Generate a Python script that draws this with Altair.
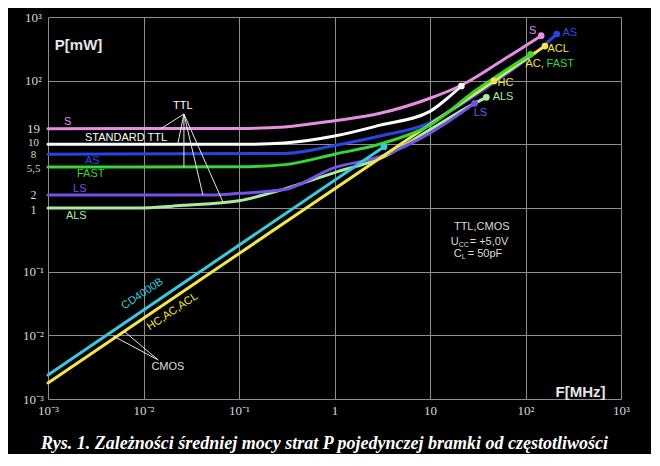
import json
import altair as alt
import pandas as pd

# ---------------- data (F in MHz, P in mW) ----------------
S_f = [0.001, 0.1, 0.3, 1, 3, 10, 21.6, 58, 146]
S_p = [17.6, 17.8, 18.8, 23.5, 30.7, 52.9, 85.5, 211, 509]
STD_f = [0.001, 0.1, 0.3, 1, 3, 10, 15, 21.3]
STD_p = [10, 10, 10.5, 13.5, 20, 33, 52, 82.5]
AS_f = [0.001, 0.3, 1, 3, 10, 20, 60, 158, 213]
AS_p = [7.0, 7.2, 9.6, 13.5, 22, 40, 120, 363, 541]
FAST_f = [0.001, 0.1, 0.3, 1, 3, 10, 30, 113]
FAST_p = [4.4, 4.45, 4.8, 7.0, 10.1, 20, 70, 259]
LS_f = [0.001, 0.05, 0.1, 0.3, 1, 3, 10, 29.3]
LS_p = [1.6, 1.6, 1.7, 1.95, 4.3, 6.4, 15, 44]
ALS_f = [0.001, 0.008, 0.026, 0.1, 0.3, 1, 3, 10, 26, 38.9]
ALS_p = [1.0, 1.0, 1.1, 1.3, 2.0, 3.6, 6.0, 17, 40, 54.8]
CD_f = [0.001, 3.3]
CD_p = [0.00238, 9.2]
HC_f = [0.001, 46.8, 160]
HC_p = [0.00179, 99, 350]

series_names = ["ALS", "LS", "AS", "CD4000B", "HC", "FAST", "STANDARD TTL", "S"]
series_f = [ALS_f, LS_f, AS_f, CD_f, HC_f, FAST_f, STD_f, S_f]
series_p = [ALS_p, LS_p, AS_p, CD_p, HC_p, FAST_p, STD_p, S_p]
series_colors = ["#a8eaa2", "#7452e6", "#2a44e0", "#3cc8dc", "#f2e64a", "#36d636", "#ffffff", "#e48ee4"]

# extra marker on the yellow line (HC)
extra_dot_f = [46.8]
extra_dot_p = [99]
extra_dot_c = ["#f2e64a"]

# axis ticks
x_tick_values = [0.001, 0.01, 0.1, 1, 10, 100, 1000]
x_tick_labels = ["10⁻³", "10⁻²", "10⁻¹", "1", "10", "10²", "10³"]
y_tick_values = [0.001, 0.01, 0.1, 1, 1.6, 4.4, 7.0, 10, 17.6, 100, 1000]
y_tick_labels = ["10⁻³", "10⁻²", "10⁻¹", "1", "2", "5,5", "8", "10", "19", "10²", "10³"]

# text annotations (text, F, P, colour)
left_lab_text = ["S", "STANDARD TTL", "AS", "FAST", "LS", "ALS",
                 "AS", "ACL", "AC,", "FAST", "HC", "ALS", "LS"]
left_lab_f = [0.00147, 0.00244, 0.00244, 0.00201, 0.00183, 0.00154,
              244, 170, 100, 166, 51, 45.3, 28.7]
left_lab_p = [22.4, 12.6, 5.47, 3.38, 1.97, 0.749,
              551, 314, 181, 181, 91, 56, 31.4]
left_lab_c = ["#e48ee4", "#ffffff", "#2a4ce0", "#36d636", "#7452e6", "#a8eaa2",
              "#2a4ce0", "#f2e64a", "#f2e64a", "#36d636", "#f2e64a", "#a8eaa2", "#7452e6"]

mid_lab_text = ["S", "TTL", "CMOS"]
mid_lab_f = [118.7, 0.0258, 0.018]
mid_lab_p = [603, 40, 0.00318]
mid_lab_c = ["#e48ee4", "#ffffff", "#dddddd"]

rot_lab_text = ["CD4000B", "HC,AC,ACL"]
rot_lab_f = [0.00975, 0.0201]
rot_lab_p = [0.0446, 0.0235]
rot_lab_c = ["#3cc8dc", "#f2e64a"]

# leader lines (from anchor to curve)
lead_f = [0.0265, 0.0265, 0.0265, 0.0265, 0.0265, 0.01426, 0.01426]
lead_p = [30, 30, 30, 30, 30, 0.0041, 0.0041]
lead_f2 = [0.0152, 0.0229, 0.0265, 0.0419, 0.0678, 0.00482, 0.0064]
lead_p2 = [17.6, 10.3, 4.4, 1.6, 1.25, 0.00977, 0.0113]

info_f = [34.8]
info_p = [0.503, 0.292, 0.19]

axis_title_text = ["P[mW]", "F[MHz]"]
axis_title_f = [0.00118, 689]
axis_title_p = [363, 0.0013]

caption = "Rys. 1.  Zależności średniej mocy strat P pojedynczej bramki od częstotliwości"

# ---------------- chart ----------------
xscale = alt.Scale(type="log", domain=[0.001, 1000], nice=False)
yscale = alt.Scale(type="log", domain=[0.001, 1000], nice=False)

x_expr = "{}[indexof({}, datum.value)]".format(
    json.dumps(x_tick_labels, ensure_ascii=False), json.dumps(x_tick_values))
y_expr = "{}[indexof({}, datum.value)]".format(
    json.dumps(y_tick_labels, ensure_ascii=False), json.dumps(y_tick_values))

decade_test = "abs(log(datum.value)/LN10 - round(log(datum.value)/LN10)) < 0.01"
crowded_test = "datum.value == 10 || datum.value == 7 || datum.value == 4.4"
low_test = "datum.value == 1 || datum.value == 1.6"

xaxis = alt.Axis(values=x_tick_values, labelExpr=x_expr, grid=True, gridColor="#8f8f8f",
                 gridWidth=1, domain=False, ticks=False, tickSize=0, title=None,
                 labelFont="Liberation Serif", labelFontSize=13, labelColor="#d8d8d8",
                 labelPadding=5, labelFlush=False, labelOverlap=False, labelBound=False)
yaxis = alt.Axis(values=y_tick_values, labelExpr=y_expr, grid=True, gridColor="#8f8f8f",
                 gridWidth=1,
                 gridOpacity={"condition": {"test": decade_test, "value": 1}, "value": 0},
                 labelOffset={"condition": [
                     {"test": "datum.value == 10", "value": -2},
                     {"test": "datum.value == 4.4", "value": 1},
                     {"test": "datum.value == 1.6", "value": -1},
                     {"test": "datum.value == 1", "value": 1}], "value": 0},
                 labelFontSize={"condition": [
                     {"test": crowded_test, "value": 11},
                     {"test": low_test, "value": 12}], "value": 13},
                 domain=False, ticks=False, tickSize=0, title=None,
                 labelFont="Liberation Serif", labelColor="#d8d8d8",
                 labelAlign="center", labelPadding=15, labelBaseline="middle",
                 labelFlush=False, labelOverlap=False, labelBound=False)

X = alt.X("f:Q", scale=xscale, axis=xaxis)
Y = alt.Y("p:Q", scale=yscale, axis=yaxis)

layers = []
dot_rows = []
for name, fs, ps, col in zip(series_names, series_f, series_p, series_colors):
    df = pd.DataFrame({"f": fs, "p": ps, "s": name})
    layers.append(
        alt.Chart(df).mark_line(color=col, strokeWidth=3, interpolate="monotone",
                                strokeCap="round")
        .encode(x=X, y=Y)
    )
    dot_rows.append({"f": fs[-1], "p": ps[-1], "c": col})
for f_, p_, c_ in zip(extra_dot_f, extra_dot_p, extra_dot_c):
    dot_rows.append({"f": f_, "p": p_, "c": c_})

dots = alt.Chart(pd.DataFrame(dot_rows)).mark_point(filled=True, size=45, opacity=1).encode(
    x=X, y=Y, color=alt.Color("c:N", scale=None))

leads = alt.Chart(pd.DataFrame({"f": lead_f, "p": lead_p, "f2": lead_f2, "p2": lead_p2})) \
    .mark_rule(color="#e8e8e8", strokeWidth=1).encode(x=X, y=Y, x2="f2:Q", y2="p2:Q")

font = "Liberation Sans"
left_labels = alt.Chart(pd.DataFrame({"t": left_lab_text, "f": left_lab_f, "p": left_lab_p,
                                      "c": left_lab_c})) \
    .mark_text(align="left", baseline="middle", font=font, fontSize=11) \
    .encode(x=X, y=Y, text="t:N", color=alt.Color("c:N", scale=None))

mid_labels = alt.Chart(pd.DataFrame({"t": mid_lab_text, "f": mid_lab_f, "p": mid_lab_p,
                                     "c": mid_lab_c})) \
    .mark_text(align="center", baseline="middle", font=font, fontSize=11) \
    .encode(x=X, y=Y, text="t:N", color=alt.Color("c:N", scale=None))

rot_labels = alt.Chart(pd.DataFrame({"t": rot_lab_text, "f": rot_lab_f, "p": rot_lab_p,
                                     "c": rot_lab_c})) \
    .mark_text(align="center", baseline="middle", font=font, fontSize=11, angle=326) \
    .encode(x=X, y=Y, text="t:N", color=alt.Color("c:N", scale=None))

info_col = "#dcdcdc"
info_layers = []
def info_text(txt, p, dx, dy=0, size=11, align="left"):
    d = pd.DataFrame({"f": info_f, "p": [p], "t": [txt]})
    return alt.Chart(d).mark_text(align=align, baseline="middle", font=font, fontSize=size,
                                  color=info_col, dx=dx, dy=dy).encode(x=X, y=Y, text="t:N")

info_layers.append(info_text("TTL,CMOS", info_p[0], 0, align="center"))
info_layers.append(info_text("U", info_p[1], -31))
info_layers.append(info_text("CC", info_p[1], -23, dy=3, size=7))
info_layers.append(info_text("= +5,0V", info_p[1], -12))
info_layers.append(info_text("C", info_p[2], -28))
info_layers.append(info_text("L", info_p[2], -20, dy=3, size=7))
info_layers.append(info_text("= 50pF", info_p[2], -14))

titles_df = pd.DataFrame({"t": axis_title_text, "f": axis_title_f, "p": axis_title_p})
ptitle = alt.Chart(titles_df.iloc[[0]]).mark_text(align="left", baseline="middle", font=font,
                                                  fontSize=15, fontWeight="bold",
                                                  color="#e6e6e6") \
    .encode(x=X, y=Y, text="t:N")
ftitle = alt.Chart(titles_df.iloc[[1]]).mark_text(align="right", baseline="middle", font=font,
                                                  fontSize=15, fontWeight="bold",
                                                  color="#e6e6e6") \
    .encode(x=X, y=Y, text="t:N")

chart = alt.layer(*layers, dots, leads, left_labels, mid_labels, rot_labels, *info_layers,
                  ptitle, ftitle) \
    .properties(
        width=573, height=382,
        autosize=alt.AutoSizeParams(type="none"),
        padding={"left": 40, "top": 9, "right": 30, "bottom": 55},
        background="black",
        title=alt.TitleParams(caption, orient="bottom", anchor="middle", font="Liberation Serif",
                              fontSize=18, fontStyle="italic", fontWeight="bold",
                              color="#ffffff", offset=18, dx=-10),
    ) \
    .configure_view(stroke=None)

chart.save("out.html", embed_options={"renderer": "svg", "actions": False})
